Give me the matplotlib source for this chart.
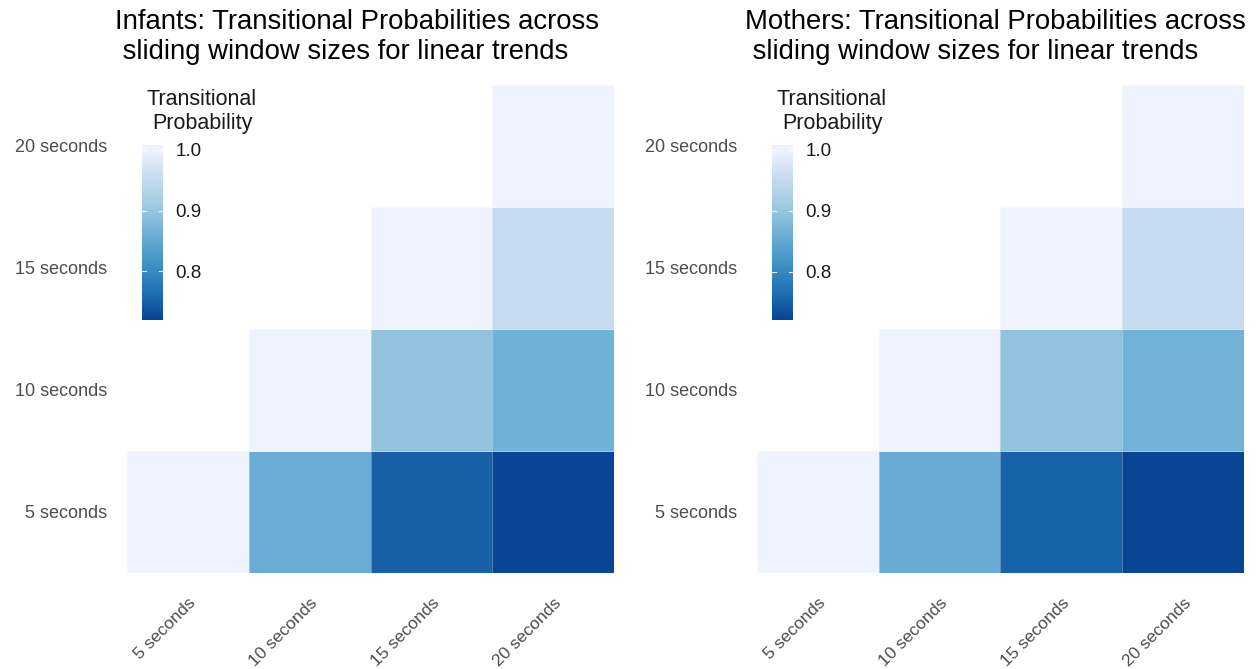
import numpy as np
import matplotlib
matplotlib.use("Agg")
import matplotlib.pyplot as plt
from matplotlib.colors import LinearSegmentedColormap, Normalize

plt.rcParams["font.family"] = ["Liberation Sans", "DejaVu Sans"]

# Sliding window sizes (rows = reference window, columns = compared window)
windows = ["5 seconds", "10 seconds", "15 seconds", "20 seconds"]

# Transitional probabilities, upper triangle only (row i, column j >= i)
infant_tp = [
    [1.000, 0.857, 0.750, 0.720],
    [np.nan, 1.000, 0.895, 0.865],
    [np.nan, np.nan, 1.000, 0.953],
    [np.nan, np.nan, np.nan, 1.000],
]
mother_tp = [
    [1.000, 0.857, 0.752, 0.721],
    [np.nan, 1.000, 0.895, 0.866],
    [np.nan, np.nan, 1.000, 0.953],
    [np.nan, np.nan, np.nan, 1.000],
]

titles = [
    "Infants: Transitional Probabilities across\n sliding window sizes for linear trends",
    "Mothers: Transitional Probabilities across\n sliding window sizes for linear trends",
]
legend_title = "Transitional\nProbability"
cbar_ticks = [0.8, 0.9, 1.0]

# ColorBrewer Blues (7), dark for low values
blues7 = ["#084594", "#2171b5", "#4292c6", "#6baed6", "#9ecae1", "#c6dbef", "#eff3ff"]
cmap = LinearSegmentedColormap.from_list("blues_rev", blues7)

W, H = 1257, 669
fig = plt.figure(figsize=(W / 100, H / 100), dpi=100)


def fx(px):
    return px / W


def fy(py):
    return 1 - py / H


panel_left = [127, 757]
panel_w, panel_top, panel_bottom = 487, 85, 573
cbar_left = [142, 772]
cbar_top, cbar_bottom = 145, 320
title_x = [115, 745]

for k, data in enumerate([infant_tp, mother_tp]):
    arr = np.ma.masked_invalid(np.array(data, dtype=float))
    vmin, vmax = float(arr.min()), float(arr.max())
    norm = Normalize(vmin=vmin, vmax=vmax)

    ax = fig.add_axes([fx(panel_left[k]), fy(panel_bottom),
                       panel_w / W, (panel_bottom - panel_top) / H])
    n = len(windows)
    mesh = ax.pcolormesh(np.arange(n + 1), np.arange(n + 1), arr,
                         cmap=cmap, norm=norm,
                         edgecolors=(1, 1, 1, 0.3), linewidth=0.7)
    ax.set_xlim(0, n)
    ax.set_ylim(0, n)
    ax.set_xticks(np.arange(n) + 0.5)
    ax.set_yticks(np.arange(n) + 0.5)
    ax.set_xticklabels(windows, rotation=45, ha="right", va="top",
                       rotation_mode="anchor", fontsize=12.5, color="#4d4d4d")
    ax.set_yticklabels(windows, fontsize=13, color="#4d4d4d")
    ax.tick_params(length=0)
    ax.tick_params(axis="x", pad=16)
    ax.tick_params(axis="y", pad=14.5)
    for s in ax.spines.values():
        s.set_visible(False)

    # Title
    fig.text(fx(title_x[k]), fy(9), titles[k], ha="left", va="top",
             fontsize=19.8, color="black", linespacing=1.2)

    # Colour bar placed inside the panel area
    cax = fig.add_axes([fx(cbar_left[k]), fy(cbar_bottom), 21 / W,
                        (cbar_bottom - cbar_top) / H])
    lo = vmin
    hi = vmax + 0.0082
    grad = np.linspace(lo, hi, 300).reshape(-1, 1)
    cax.imshow(grad, extent=[0, 1, lo, hi], origin="lower", aspect="auto",
               cmap=cmap, norm=norm, interpolation="bilinear")
    cax.set_xlim(0, 1)
    cax.set_ylim(lo, hi)
    cax.set_xticks([])
    cax.yaxis.tick_right()
    cax.set_yticks(cbar_ticks)
    cax.set_yticklabels([f"{t:.1f}" for t in cbar_ticks])
    cax.tick_params(length=0, pad=9, labelsize=13.5, labelcolor="#1a1a1a")
    for s in cax.spines.values():
        s.set_visible(False)
    for t in cbar_ticks:
        cax.plot([0, 0.2], [t, t], color="white", lw=0.8, alpha=0.9)
        cax.plot([0.8, 1], [t, t], color="white", lw=0.8, alpha=0.9)
    fig.text(fx(cbar_left[k] + 60), fy(89), legend_title, ha="center",
             va="top", fontsize=15.5, color="#1a1a1a", linespacing=1.2)

fig.savefig("out.png", dpi=100, facecolor="white")
